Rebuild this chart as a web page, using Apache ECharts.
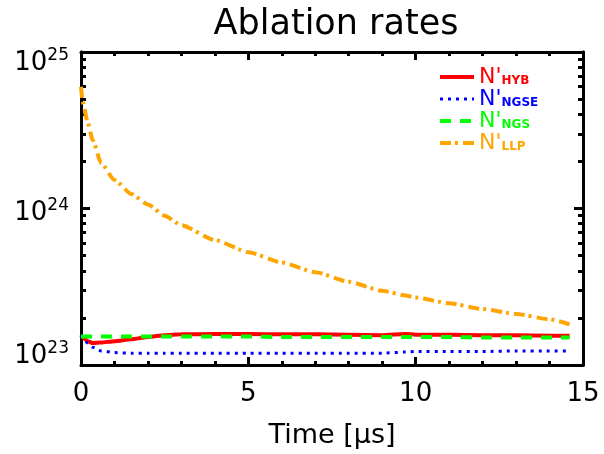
<!DOCTYPE html>
<html lang="en">
<head>
    <meta charset="UTF-8">
    <title>Ablation rates</title>
    <script src="https://cdn.jsdelivr.net/npm/echarts@6/dist/echarts.min.js"></script>
    <style>
        body { margin: 0; background: #fff; }
    </style>
</head>
<body>
    <div id="pic1" style="width:604px;height:454px;"></div>
    <script>
        // time in microseconds
        var times = [0, 0.05, 0.2, 0.35, 0.6, 1, 1.5, 2, 2.5, 3, 4, 5, 6, 7, 8, 9, 9.7, 10, 11, 12, 13, 14, 14.6];

        // ablation rates (particles / s)
        var hyb  = [1.54e23, 1.50e23, 1.42e23, 1.38e23, 1.39e23, 1.42e23, 1.46e23, 1.51e23, 1.55e23, 1.57e23, 1.58e23, 1.58e23,
                    1.57e23, 1.57e23, 1.56e23, 1.55e23, 1.58e23, 1.56e23, 1.56e23, 1.55e23, 1.55e23, 1.54e23, 1.54e23];
        var ngse = [1.55e23, 1.48e23, 1.38e23, 1.30e23, 1.23e23, 1.20e23, 1.19e23, 1.19e23, 1.19e23, 1.19e23, 1.19e23, 1.19e23,
                    1.19e23, 1.19e23, 1.19e23, 1.19e23, 1.21e23, 1.22e23, 1.22e23, 1.22e23, 1.23e23, 1.23e23, 1.23e23];
        var ngs  = [1.52e23, 1.52e23, 1.52e23, 1.52e23, 1.52e23, 1.52e23, 1.52e23, 1.52e23, 1.52e23, 1.52e23, 1.52e23, 1.52e23,
                    1.51e23, 1.51e23, 1.51e23, 1.51e23, 1.51e23, 1.51e23, 1.51e23, 1.50e23, 1.50e23, 1.50e23, 1.50e23];
        var llp  = [6.0e24, 4.8e24, 3.56e24, 2.73e24, 1.95e24, 1.52e24, 1.24e24, 1.06e24, 9.0e23, 7.82e23, 6.28e23, 5.26e23,
                    4.52e23, 3.92e23, 3.40e23, 2.98e23, 2.78e23, 2.70e23, 2.48e23, 2.28e23, 2.12e23, 1.96e23, 1.82e23];

        var seriesNames = ['HYB', 'NGSE', 'NGS', 'LLP'];
        var seriesColors = ['#ff0000', '#0000ff', '#00ff00', '#ffa500'];

        // axis ticks
        var xMajor = [0, 5, 10, 15];
        var yMajor = [1e23, 1e24, 1e25];
        var yMinor = [2e23, 3e23, 4e23, 5e23, 6e23, 7e23, 8e23, 9e23,
                      2e24, 3e24, 4e24, 5e24, 6e24, 7e24, 8e24, 9e24];

        function pairs(xs, ys) {
            var out = [];
            for (var i = 0; i < xs.length; i++) {
                out.push([xs[i], ys[i]]);
            }
            return out;
        }

        var font = 'DejaVu Sans';
        var myChart = echarts.init(document.getElementById('pic1'));

        function xAxisDef(pos, showLabel) {
            return {
                type: 'value',
                position: pos,
                min: xMajor[0],
                max: xMajor[xMajor.length - 1],
                interval: 5,
                name: showLabel ? 'Time [\u03bcs]' : '',
                nameLocation: 'middle',
                nameGap: 57,
                nameTextStyle: { color: '#000', fontSize: 27, fontFamily: font },
                axisLine: { show: true, lineStyle: { color: '#000', width: 3 } },
                axisTick: { show: true, inside: true, length: 8, lineStyle: { color: '#000', width: 3 } },
                minorTick: { show: true, splitNumber: 5, length: 4, lineStyle: { color: '#000', width: 3 } },
                axisLabel: { show: showLabel, margin: 16, color: '#000', fontSize: 26, fontFamily: font },
                splitLine: { show: false },
                minorSplitLine: { show: false }
            };
        }

        function yAxisDef(pos, minor) {
            return {
                type: 'log',
                logBase: 10,
                position: pos,
                min: yMajor[0],
                max: yMajor[yMajor.length - 1],
                axisLine: { show: true, lineStyle: { color: '#000', width: 3 } },
                axisTick: {
                    show: true, inside: true, length: minor ? 5 : 9,
                    customValues: minor ? yMinor : yMajor,
                    lineStyle: { color: '#000', width: 3 }
                },
                axisLabel: { show: false },
                splitLine: { show: false }
            };
        }

        // one label-only axis per decade, so each 10^n can sit a bit off its tick like the original
        function yLabelAxis(value, pad) {
            return {
                type: 'log',
                logBase: 10,
                position: 'left',
                min: yMajor[0],
                max: yMajor[yMajor.length - 1],
                axisLine: { show: false },
                axisTick: { show: false },
                splitLine: { show: false },
                axisLabel: {
                    show: true,
                    margin: 12,
                    padding: pad,
                    customValues: [value],
                    formatter: function (v) {
                        return '{b|10}{e|' + Math.round(Math.log10(v)) + '}';
                    },
                    rich: {
                        b: { color: '#000', fontSize: 26, fontFamily: font, lineHeight: 32 },
                        e: { color: '#000', fontSize: 17, fontFamily: font, lineHeight: 17, verticalAlign: 'top' }
                    }
                }
            };
        }

        var lineTypes = [
            { width: 4, type: 'solid' },
            { width: 3, type: [3, 5] },
            { width: 4, type: [11, 9] },
            { width: 4, type: [11, 4, 3, 5] }
        ];
        var dataSets = [hyb, ngse, ngs, llp];

        var series = [];
        for (var i = 0; i < seriesNames.length; i++) {
            series.push({
                name: seriesNames[i],
                type: 'line',
                xAxisIndex: 0,
                yAxisIndex: 0,
                symbol: 'none',
                smooth: 0.2,
                smoothMonotone: 'x',
                color: seriesColors[i],
                lineStyle: { color: seriesColors[i], width: lineTypes[i].width, type: lineTypes[i].type, cap: 'butt' },
                data: pairs(times, dataSets[i])
            });
        }

        var legendData = [];
        for (var j = 0; j < seriesNames.length; j++) {
            legendData.push({ name: seriesNames[j], textStyle: { color: seriesColors[j] } });
        }

        var option = {
            backgroundColor: '#fff',
            animation: false,
            title: {
                text: 'Ablation rates',
                left: 331,
                top: 2,
                textAlign: 'center',
                textStyle: { color: '#000', fontSize: 35, fontWeight: 'normal', fontFamily: font }
            },
            legend: {
                orient: 'vertical',
                left: 438,
                top: 66,
                padding: 0,
                itemGap: 0,
                itemWidth: 34,
                itemHeight: 14,
                data: legendData,
                itemStyle: { opacity: 0 },
                lineStyle: { width: 'inherit' },
                formatter: function (name) {
                    return "{n|N'}{s|" + name + '}';
                },
                textStyle: {
                    fontFamily: font,
                    rich: {
                        n: { fontSize: 22, lineHeight: 20, fontFamily: font },
                        s: { fontSize: 12, fontWeight: 'bold', lineHeight: 8, verticalAlign: 'bottom', fontFamily: font }
                    }
                }
            },
            grid: { left: 81, right: 21, top: 52, bottom: 89, containLabel: false },
            xAxis: [xAxisDef('bottom', true), xAxisDef('top', false)],
            yAxis: [
                yAxisDef('left', false),
                yAxisDef('left', true),
                yAxisDef('right', false),
                yAxisDef('right', true),
                yLabelAxis(yMajor[0], [0, 0, 18, 0]),
                yLabelAxis(yMajor[1], [10, 0, 0, 0]),
                yLabelAxis(yMajor[2], [22, 0, 0, 0])
            ],
            series: series
        };

        myChart.setOption(option);
    </script>
</body>
</html>
